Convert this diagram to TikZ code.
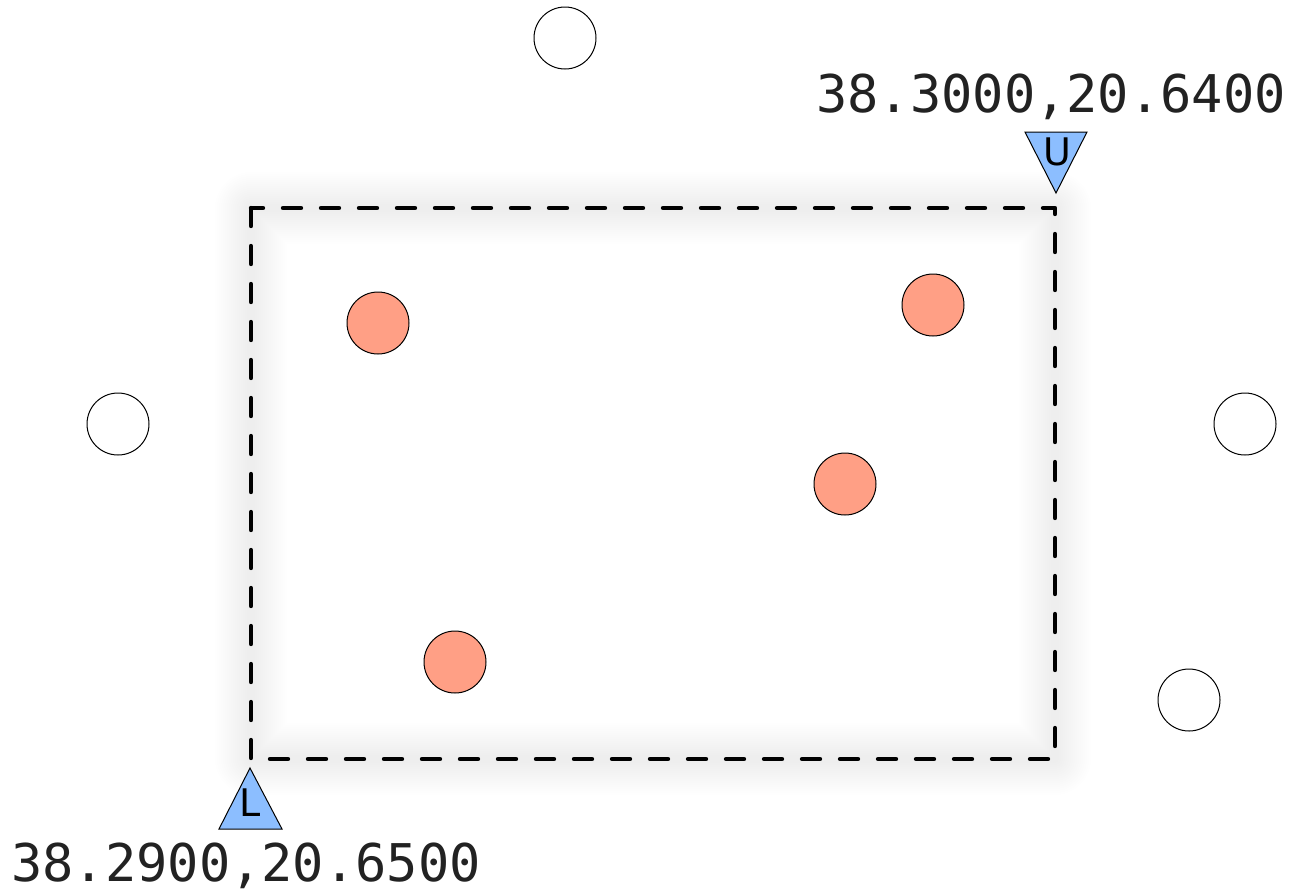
\documentclass[tikz,border=0pt]{standalone}
\usepackage{fontspec}
\setmonofont{DejaVu Sans Mono}
\setsansfont{DejaVu Sans}
\usetikzlibrary{calc}
\definecolor{salmao}{HTML}{FF9F85}
\definecolor{azul}{HTML}{8CBEFF}
\definecolor{cinza}{HTML}{222222}
\tikzset{
  pfora/.style = {circle, draw=black, fill=white, inner sep=0pt,
    minimum size=31pt, line width=0.5pt},
  pdentro/.style = {pfora, fill=salmao},
  caixa/.style = {draw=black, line width=2.2pt, line cap=round,
    line join=round, dash pattern=on 9pt off 10pt},
  brilho/.style = {draw=black, opacity=0.0028, line join=round},
  tri/.style = {draw=black, fill=azul, line width=0.5pt, line join=miter},
  letra/.style = {font=\sffamily\fontsize{19}{19}\selectfont, inner sep=0pt},
  rot/.style = {font=\ttfamily\fontsize{26}{26}\selectfont,
    text=cinza, inner sep=0pt}
}
\begin{document}
\begin{tikzpicture}[x=0.5pt, y=-0.5pt]
  \useasboundingbox (0,0) rectangle (1291,895);
  % brilho em volta da caixa
  \foreach \w in {72,68,...,8}
    \draw [brilho, line width=\w*0.5pt] (251,208) rectangle (1055,759);
  \draw [caixa] (251,208) rectangle (1055,759);
  % pontos fora
  \node [pfora] (f1) at (565,38) {};
  \node [pfora] (f2) at (118,424) {};
  \node [pfora] (f3) at (1245,424) {};
  \node [pfora] (f4) at (1189,700) {};
  % pontos dentro
  \node [pdentro] (d1) at (378,323) {};
  \node [pdentro] (d2) at (933,305) {};
  \node [pdentro] (d3) at (845,484) {};
  \node [pdentro] (d4) at (455,662) {};
  % cantos
  \draw [tri] (1025,132) -- (1087,132) -- (1056,193) -- cycle;
  \node [letra] (u) at (1057,152) {U};
  \draw [tri] (250,768) -- (282,829) -- (219,829) -- cycle;
  \node [letra] (l) at (250,803) {L};
  \node [rot] (ru) at (1051,97) {38.3000,20.6400};
  \node [rot] (rl) at (246,866) {38.2900,20.6500};
\end{tikzpicture}
\end{document}
